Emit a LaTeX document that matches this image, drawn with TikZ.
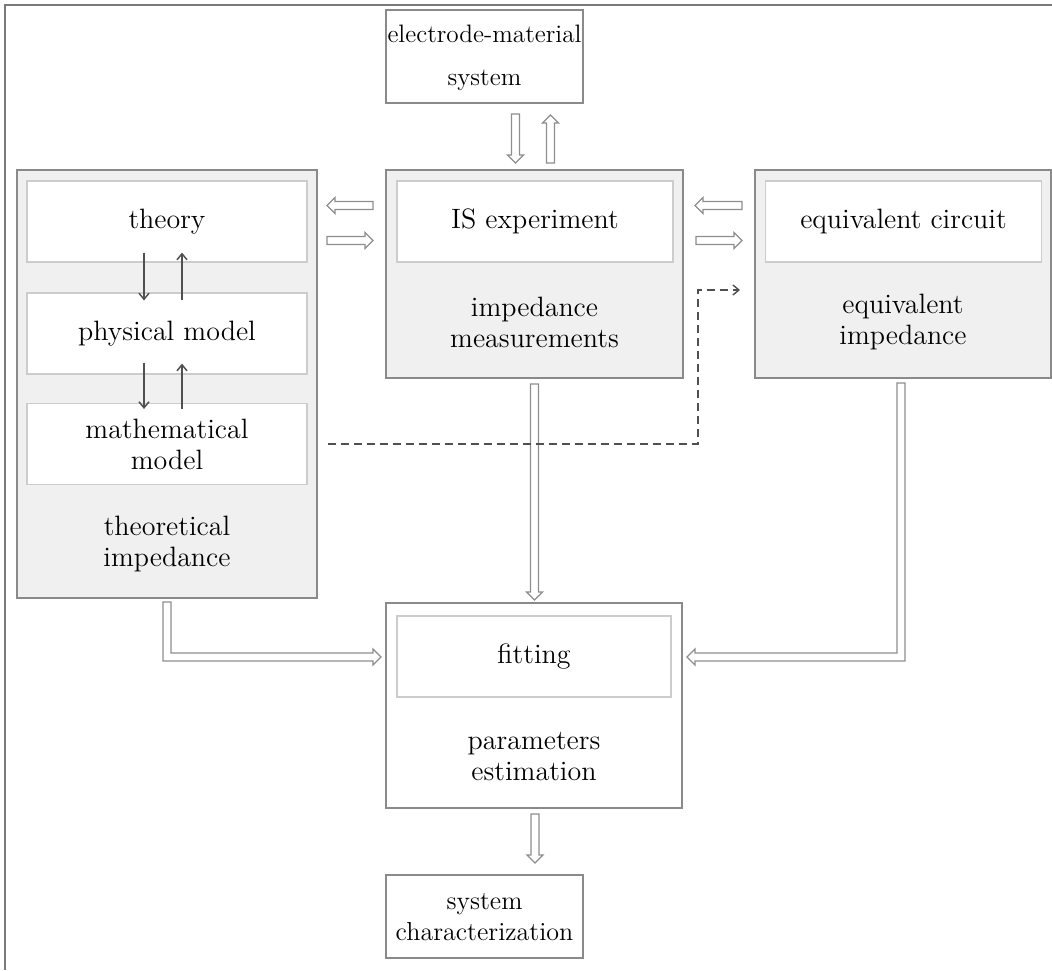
\documentclass[tikz,border=0pt]{standalone}
\usetikzlibrary{arrows.meta,calc}
\definecolor{boxline}{HTML}{8A8A8A}
\definecolor{inline}{HTML}{CCCCCC}
\definecolor{panel}{HTML}{F0F0F0}
\definecolor{arrline}{HTML}{8E8E8E}
\definecolor{dk}{HTML}{505050}
\definecolor{framec}{HTML}{7A7A7A}
\newcommand\hdown[3]{\draw[hollow] ({#1-4},#2) -- ({#1-4},{#3-8}) -- ({#1-8},{#3-8}) -- (#1,#3) -- ({#1+8},{#3-8}) -- ({#1+4},{#3-8}) -- ({#1+4},#2) -- cycle;}
\newcommand\hup[3]{\draw[hollow] ({#1-4},#2) -- ({#1-4},{#3+8}) -- ({#1-8},{#3+8}) -- (#1,#3) -- ({#1+8},{#3+8}) -- ({#1+4},{#3+8}) -- ({#1+4},#2) -- cycle;}
\newcommand\hright[3]{\draw[hollow] (#2,{#1-4}) -- ({#3-8},{#1-4}) -- ({#3-8},{#1-8}) -- (#3,#1) -- ({#3-8},{#1+8}) -- ({#3-8},{#1+4}) -- (#2,{#1+4}) -- cycle;}
\newcommand\hleft[3]{\draw[hollow] (#2,{#1-4}) -- ({#3+8},{#1-4}) -- ({#3+8},{#1-8}) -- (#3,#1) -- ({#3+8},{#1+8}) -- ({#3+8},{#1+4}) -- (#2,{#1+4}) -- cycle;}
\begin{document}
\begin{tikzpicture}[x=0.5pt,y=-0.5pt,
  every node/.style={font=\fontsize{14}{15.5}\selectfont, align=center, inner sep=0pt},
  whitebox/.style={draw=boxline, line width=0.6pt, fill=white},
  panelbox/.style={draw=boxline, line width=0.6pt, fill=panel},
  innerbox/.style={draw=inline, line width=0.6pt, fill=white},
  hollow/.style={draw=arrline, line width=0.6pt, fill=white, line join=miter},
  thinarrow/.style={draw=dk, line width=0.75pt, -{Straight Barb[length=3pt,width=5pt]}},
  dsh/.style={draw=dk, line width=0.7pt, dash pattern=on 4pt off 2.5pt, -{Straight Barb[length=3pt,width=5pt]}}]
\useasboundingbox (0,0) rectangle (1052,970);
\draw[framec, line width=0.6pt] (1052,5) -- (5,5) -- (5,970);

% top box
\node[whitebox, minimum width=98.5pt, minimum height=46.5pt] (ems) at (484.5,56.5) {};
\node[font=\fontsize{12.6}{15.5}\selectfont] (emst) at (484.5,57.5) {electrode-material\\[6pt]system};

% left panel
\node[panelbox, minimum width=150pt, minimum height=214pt] (left) at (167,384) {};
\node[innerbox, minimum width=140pt, minimum height=40.5pt] (theory) at (167,221.5) {theory};
\node[innerbox, minimum width=140pt, minimum height=40.5pt] (phys) at (167,333.5) {physical model};
\node[innerbox, minimum width=140pt, minimum height=40.5pt] (math) at (167,444) {mathematical\\model};
\node (thimp) at (167,544) {theoretical\\impedance};

% middle panel
\node[panelbox, minimum width=148.5pt, minimum height=104pt] (mid) at (534.5,274) {};
\node[innerbox, minimum width=138pt, minimum height=40.5pt] (isexp) at (535,221.5) {IS experiment};
\node (imeas) at (534.5,322) {impedance\\measurements};

% right panel
\node[panelbox, minimum width=148pt, minimum height=104pt] (right) at (903,274) {};
\node[innerbox, minimum width=138pt, minimum height=40.5pt] (eqc) at (903.5,221.5) {equivalent circuit};
\node (eqimp) at (903,322) {equivalent\\impedance};

% fitting
\node[whitebox, minimum width=148pt, minimum height=102.5pt] (fitbox) at (534,705.5) {};
\node[innerbox, minimum width=137pt, minimum height=40.5pt] (fitting) at (534,656.5) {fitting};
\node (pest) at (534,757) {parameters\\estimation};

% bottom box
\node[whitebox, minimum width=98.5pt, minimum height=41.5pt] (sc) at (484.5,916.5) {};
\node[font=\fontsize{13}{15.5}\selectfont] (sct) at (484.5,917) {system\\characterization};

% hollow arrows
\hdown{515.5}{114}{163}
\hup{550.5}{163}{115}
\hleft{205.5}{373}{327}
\hright{240.5}{327}{373}
\hleft{205.5}{742}{695}
\hright{240.5}{696}{742}
\hdown{534.5}{384}{600}
\hdown{535}{814}{863}
\draw[hollow] (163,602) -- (163,661) -- (373,661) -- (373,665) -- (381,657) -- (373,649) -- (373,653) -- (171,653) -- (171,602) -- cycle;
\draw[hollow] (905,383) -- (905,661) -- (695,661) -- (695,665) -- (687,657) -- (695,649) -- (695,653) -- (897,653) -- (897,383) -- cycle;

% thin arrows in left panel
\draw[thinarrow, shorten <=-5pt, shorten >=-4pt] ([xshift=-11.5pt]theory.south) -- ([xshift=-11.5pt]phys.north);
\draw[thinarrow, shorten <=-4pt, shorten >=-5pt] ([xshift=7.5pt]phys.north) -- ([xshift=7.5pt]theory.south);
\draw[thinarrow, shorten <=-6pt, shorten >=-3pt] ([xshift=-11.5pt]phys.south) -- ([xshift=-11.5pt]math.north);
\draw[thinarrow, shorten <=-3pt, shorten >=-5.5pt] ([xshift=7.5pt]math.north) -- ([xshift=7.5pt]phys.south);

% dashed connector
\coordinate (dtip) at (740,290);
\draw[dsh] ($(math.east -| left.east)+(10,0)$) -- (698,444) |- (dtip);
\end{tikzpicture}
\end{document}
